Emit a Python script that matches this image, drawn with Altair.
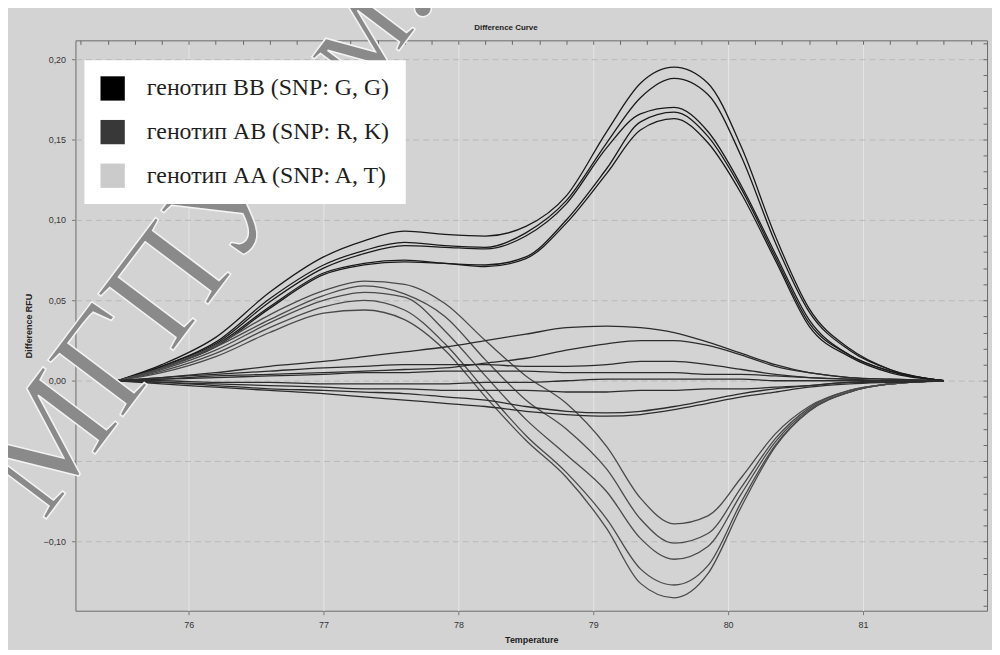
import altair as alt
import pandas as pd

# ---- data ----
TEMPS = [75.47, 75.8, 76.2, 76.6, 77.0, 77.3, 77.6, 77.9, 78.2, 78.5, 78.8,
         79.1, 79.35, 79.6, 79.85, 80.1, 80.35, 80.6, 80.9, 81.2, 81.6]

# strongly positive curves
C1 = [0, 0.010, 0.027, 0.055, 0.077, 0.087, 0.093, 0.091, 0.090, 0.096, 0.115, 0.155, 0.185, 0.195, 0.185, 0.145, 0.090, 0.045, 0.020, 0.007, 0]
C2 = [0, 0.009, 0.024, 0.051, 0.072, 0.081, 0.086, 0.084, 0.083, 0.092, 0.112, 0.148, 0.176, 0.188, 0.178, 0.139, 0.086, 0.043, 0.019, 0.007, 0]
C3 = [0, 0.009, 0.023, 0.049, 0.070, 0.079, 0.084, 0.083, 0.082, 0.090, 0.110, 0.145, 0.166, 0.170, 0.155, 0.121, 0.079, 0.038, 0.016, 0.006, 0]
C4 = [0, 0.008, 0.022, 0.046, 0.067, 0.073, 0.075, 0.073, 0.072, 0.077, 0.100, 0.132, 0.161, 0.167, 0.152, 0.119, 0.077, 0.036, 0.016, 0.006, 0]
C5 = [0, 0.008, 0.021, 0.045, 0.066, 0.072, 0.074, 0.073, 0.071, 0.076, 0.098, 0.129, 0.156, 0.163, 0.148, 0.116, 0.075, 0.034, 0.015, 0.005, 0]

# hump then trough curves
D1 = [0, 0.008, 0.022, 0.041, 0.056, 0.062, 0.060, 0.048, 0.025, 0.003, -0.014, -0.041, -0.073, -0.089, -0.084, -0.060, -0.033, -0.016, -0.006, -0.002, 0]
D2 = [0, 0.0075, 0.021, 0.038, 0.053, 0.059, 0.054, 0.040, 0.013, -0.012, -0.030, -0.055, -0.086, -0.101, -0.095, -0.066, -0.036, -0.017, -0.006, -0.002, 0]
D3 = [0, 0.007, 0.019, 0.036, 0.050, 0.055, 0.052, 0.031, 0.003, -0.024, -0.046, -0.069, -0.098, -0.111, -0.103, -0.070, -0.038, -0.018, -0.007, -0.002, 0]
D4 = [0, 0.006, 0.017, 0.033, 0.046, 0.050, 0.044, 0.023, -0.006, -0.034, -0.057, -0.086, -0.117, -0.127, -0.115, -0.075, -0.040, -0.019, -0.007, -0.002, 0]
D5 = [0, 0.005, 0.015, 0.030, 0.042, 0.044, 0.038, 0.019, -0.010, -0.037, -0.060, -0.092, -0.126, -0.135, -0.120, -0.078, -0.041, -0.019, -0.007, -0.002, 0]

# near-zero curves
E1 = [0, 0.002, 0.005, 0.009, 0.012, 0.015, 0.018, 0.021, 0.025, 0.029, 0.033, 0.034, 0.033, 0.030, 0.024, 0.017, 0.010, 0.005, 0.002, 0.001, 0]
E2 = [0, 0.001, 0.003, 0.004, 0.005, 0.006, 0.007, 0.008, 0.011, 0.014, 0.019, 0.023, 0.025, 0.025, 0.022, 0.016, 0.009, 0.005, 0.002, 0.001, 0]
E3 = [0, 0.002, 0.004, 0.006, 0.008, 0.009, 0.010, 0.010, 0.010, 0.009, 0.009, 0.010, 0.012, 0.012, 0.010, 0.007, 0.004, 0.002, 0.001, 0.000, 0]
E4 = [0, 0.001, 0.002, 0.003, 0.004, 0.005, 0.005, 0.006, 0.006, 0.006, 0.005, 0.005, 0.005, 0.005, 0.004, 0.004, 0.003, 0.002, 0.001, 0.000, 0]
E5 = [0, 0.000, -0.001, -0.001, -0.002, -0.002, -0.002, -0.002, -0.001, -0.001, 0.000, 0.001, 0.001, 0.001, 0.001, 0.001, 0.000, 0.000, 0.000, 0.000, 0]
E6 = [0, -0.001, -0.002, -0.003, -0.004, -0.005, -0.005, -0.006, -0.006, -0.006, -0.007, -0.007, -0.006, -0.006, -0.005, -0.005, -0.004, -0.003, -0.001, -0.001, 0]
E7 = [0, -0.002, -0.004, -0.006, -0.008, -0.010, -0.012, -0.014, -0.016, -0.019, -0.021, -0.022, -0.021, -0.018, -0.014, -0.010, -0.007, -0.004, -0.002, -0.001, 0]
E8 = [0, -0.001, -0.003, -0.005, -0.006, -0.007, -0.008, -0.010, -0.012, -0.016, -0.019, -0.020, -0.019, -0.016, -0.012, -0.008, -0.005, -0.003, -0.001, 0.000, 0]

CURVES = {
    "C1": C1, "C2": C2, "C3": C3, "C4": C4, "C5": C5,
    "D1": D1, "D2": D2, "D3": D3, "D4": D4, "D5": D5,
    "E1": E1, "E2": E2, "E3": E3, "E4": E4, "E5": E5, "E6": E6, "E7": E7, "E8": E8,
}
GROUPS = ["C", "D", "E"]
GROUP_COLORS = ["#1a1a1a", "#4a4a4a", "#2c2c2c"]

LEGEND_LABELS = ["генотип BB (SNP: G, G)", "генотип AB (SNP: R, K)", "генотип AA (SNP: A, T)"]
LEGEND_COLORS = ["#000000", "#383838", "#cbcbcb"]

X_TICKS = [76, 77, 78, 79, 80, 81]
Y_TICKS = [-0.10, -0.05, 0.0, 0.05, 0.10, 0.15, 0.20]
TOP_MINOR = [75.2, 75.4, 75.6, 75.8, 76.0, 76.2, 76.4, 76.6, 76.8, 77.0, 77.2, 77.4, 77.6, 77.8,
             78.0, 78.2, 78.4, 78.6, 78.8, 79.0, 79.2, 79.4, 79.6, 79.8, 80.0, 80.2, 80.4, 80.6,
             80.8, 81.0, 81.2, 81.4, 81.6, 81.8]
RIGHT_MINOR = [-0.14, -0.13, -0.12, -0.11, -0.10, -0.09, -0.08, -0.07, -0.06, -0.05, -0.04, -0.03,
               -0.02, -0.01, 0.0, 0.01, 0.02, 0.03, 0.04, 0.05, 0.06, 0.07, 0.08, 0.09, 0.10, 0.11,
               0.12, 0.13, 0.14, 0.15, 0.16, 0.17, 0.18, 0.19, 0.20, 0.21]
X_DOMAIN = [75.16, 81.92]
Y_DOMAIN = [-0.143, 0.2117]
TITLE = "Difference Curve"
WATERMARK = "МГПУ им."

# ---- build table ----
rows = []
for name, vals in CURVES.items():
    for t, v in zip(TEMPS, vals):
        rows.append({"Temperature": t, "RFU": v, "curve": name, "group": name[0]})
df = pd.DataFrame(rows)

xscale = alt.Scale(domain=X_DOMAIN, nice=False, zero=False)
yscale = alt.Scale(domain=Y_DOMAIN, nice=False, zero=False)

lines = alt.Chart(df).mark_line(strokeWidth=1.3, interpolate="monotone").encode(
    x=alt.X("Temperature:Q", scale=xscale,
            axis=alt.Axis(values=X_TICKS, format="d", title="Temperature",
                          grid=True, gridColor="#e6e6e6", gridWidth=1,
                          domain=False, tickSize=4, tickColor="#777",
                          labelPadding=6, titlePadding=6)),
    y=alt.Y("RFU:Q", scale=yscale,
            axis=alt.Axis(values=Y_TICKS, title="Difference RFU",
                          labelExpr="replace(format(datum.value, '.2f'), '.', ',')",
                          grid=True, gridColor="#b9b9b9", gridDash=[6, 4], gridWidth=1,
                          domain=False, tickSize=4, tickColor="#777",
                          labelPadding=6, titlePadding=10)),
    detail="curve:N",
    stroke=alt.Stroke("group:N", scale=alt.Scale(domain=GROUPS, range=GROUP_COLORS), legend=None),
)

minor = alt.Chart(df).mark_line(strokeOpacity=0).encode(
    x=alt.X("Temperature:Q", scale=xscale,
            axis=alt.Axis(orient="top", values=TOP_MINOR, labels=False, domain=False,
                          grid=False, tickSize=4, offset=-4, tickColor="#666", title=None)),
    y=alt.Y("RFU:Q", scale=yscale,
            axis=alt.Axis(orient="right", values=RIGHT_MINOR, labels=False, domain=False,
                          grid=False, tickSize=4, offset=-4, tickColor="#666", title=None)),
    detail="curve:N",
)

title_layer = alt.Chart(pd.DataFrame({"t": [TITLE]})).mark_text(
    font="Liberation Sans", fontSize=8, fontWeight="bold", color="#222",
    align="center", baseline="middle",
).encode(text="t:N", x=alt.value(434), y=alt.value(-12))

wm = alt.Chart(pd.DataFrame({"t": [WATERMARK]})).mark_text(
    font="Liberation Serif", fontSize=145, angle=307, align="center", baseline="middle",
    fill="#8a8a8a", stroke="#f4f4f4", strokeWidth=1.5,
).encode(text="t:N", x=alt.value(132), y=alt.value(195))

leg_df = pd.DataFrame({"g": LEGEND_LABELS})
legend_layer = alt.Chart(leg_df).mark_square(opacity=0).encode(
    fill=alt.Fill("g:N", scale=alt.Scale(domain=LEGEND_LABELS, range=LEGEND_COLORS),
                  legend=alt.Legend(orient="none", legendX=9, legendY=20, title=None,
                                    symbolType="square", symbolSize=600, symbolOpacity=1,
                                    symbolStrokeWidth=0, labelFont="Liberation Serif",
                                    labelFontSize=24, labelColor="#1e1e1e", labelLimit=400,
                                    labelOffset=22, rowPadding=19, padding=16,
                                    fillColor="white")),
)

chart = alt.layer(lines, minor, title_layer, wm, legend_layer).resolve_axis(
    x="independent", y="independent"
).properties(
    width=919, height=575,
    autosize=alt.AutoSizeParams(type="none"),
    padding={"left": 68, "top": 30, "right": 5, "bottom": 37},
    background="#d3d3d3",
).configure_view(
    fill="#d6d6d6", stroke="#6a6a6a", strokeWidth=1,
).configure_axis(
    labelFont="Liberation Sans", labelFontSize=9, labelColor="#333",
    titleFont="Liberation Sans", titleFontSize=9, titleFontWeight="bold", titleColor="#222",
)

chart.save("out.html", embed_options={"renderer": "svg", "actions": False})
